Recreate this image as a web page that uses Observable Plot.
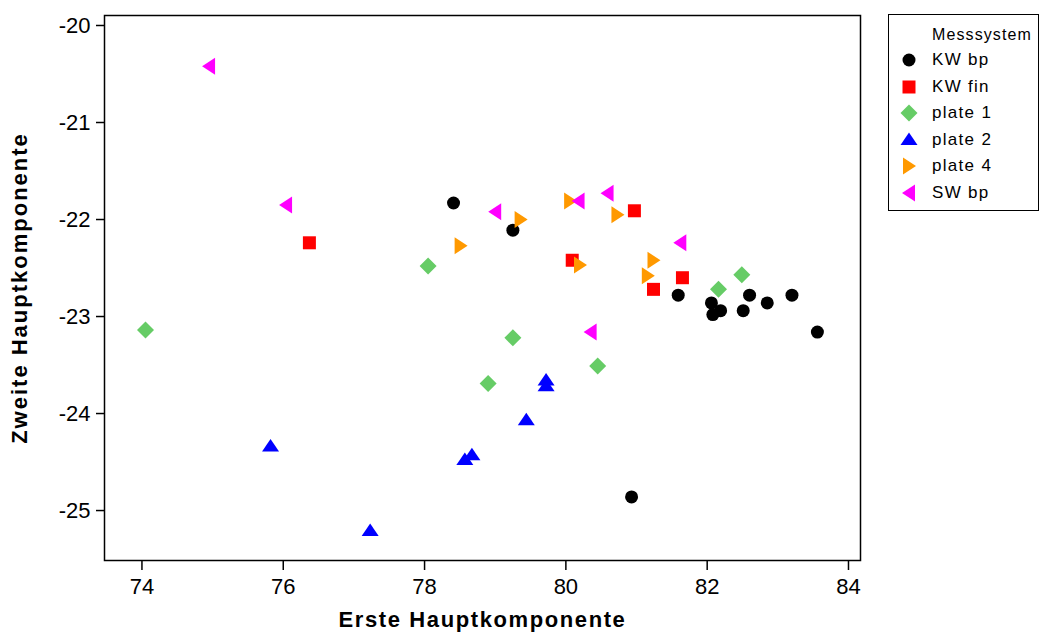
<!DOCTYPE html>
<html>
<head>
<meta charset="utf-8">
<script src="https://cdn.jsdelivr.net/npm/d3@7"></script>
<script src="https://cdn.jsdelivr.net/npm/@observablehq/plot@0.6"></script>
<style>
  html, body { margin: 0; padding: 0; background: #fff; }
  #wrap { position: relative; width: 1045px; height: 632px; font-family: "Liberation Sans", Arial, sans-serif; }
  #chart { position: absolute; left: 0; top: 0; }
  #legend { position: absolute; left: 888px; top: 14px; width: 151px; height: 197px; border: 1px solid #000; box-sizing: border-box; background: #fff; }
  #legend .title { position: absolute; left: 43px; top: 11px; font-size: 16px; letter-spacing: 1.1px; }
  #legend .row { position: absolute; left: 0; height: 22px; display: flex; align-items: center; font-size: 17px; letter-spacing: 1.3px; }
  #legend .row svg { margin-left: 10px; margin-right: 13px; }
  svg text { font-family: "Liberation Sans", Arial, sans-serif; }
  g[aria-label="x-axis label"] text { font-weight: bold; font-size: 22px; letter-spacing: 1.6px; }
  g[aria-label="y-axis label"] text { font-weight: bold; font-size: 22px; letter-spacing: 2.0px; }
</style>
</head>
<body>
<div id="wrap">
  <div id="chart"></div>
  <div id="legend"></div>
</div>
<script>
const legendTitle = "Messsystem";
const groups = ["KW bp", "KW fin", "plate 1", "plate 2", "plate 4", "SW bp"];
const colors = ["#000000", "#ff0000", "#66cc66", "#0000ff", "#ff9900", "#ff00ff"];
const xTicks = [74, 76, 78, 80, 82, 84];
const yTicks = [-20, -21, -22, -23, -24, -25];

const kwBpX = [78.41, 79.25, 81.59, 82.06, 82.19, 82.08, 82.60, 82.51, 82.85, 83.20, 83.56, 80.93];
const kwBpY = [-21.83, -22.11, -22.78, -22.86, -22.94, -22.98, -22.78, -22.94, -22.86, -22.78, -23.16, -24.86];
const kwFinX = [76.37, 80.97, 80.09, 81.65, 81.24];
const kwFinY = [-22.24, -21.91, -22.42, -22.60, -22.72];
const plate1X = [74.05, 78.05, 79.25, 78.90, 80.45, 82.16, 82.49];
const plate1Y = [-23.14, -22.48, -23.22, -23.69, -23.51, -22.72, -22.57];
const plate2X = [75.82, 77.23, 78.57, 78.67, 79.44, 79.72, 79.72];
const plate2Y = [-24.34, -25.21, -24.48, -24.43, -24.07, -23.66, -23.72];
const plate4X = [78.51, 79.36, 80.06, 80.73, 80.20, 81.24, 81.16];
const plate4Y = [-22.27, -22.00, -21.81, -21.95, -22.47, -22.42, -22.58];
const swBpX = [74.95, 76.04, 79.00, 80.18, 80.59, 81.62, 80.35];
const swBpY = [-20.42, -21.85, -21.92, -21.81, -21.73, -22.24, -23.16];

const seriesX = [kwBpX, kwFinX, plate1X, plate2X, plate4X, swBpX];
const seriesY = [kwBpY, kwFinY, plate1Y, plate2Y, plate4Y, swBpY];
const data = [];
groups.forEach((g, i) => seriesX[i].forEach((x, j) => data.push({group: g, x, y: seriesY[i][j]})));

// fixed-pixel custom symbols
const symCircle = {draw(c) { c.moveTo(6.5, 0); c.arc(0, 0, 6.5, 0, 2 * Math.PI); c.closePath(); }};
const symSquare = {draw(c) { c.moveTo(-6.5, -6.5); c.lineTo(6.5, -6.5); c.lineTo(6.5, 6.5); c.lineTo(-6.5, 6.5); c.closePath(); }};
const symDiamond = {draw(c) { c.moveTo(0, -8.5); c.lineTo(8.5, 0); c.lineTo(0, 8.5); c.lineTo(-8.5, 0); c.closePath(); }};
const symTriUp = {draw(c) { c.moveTo(0, -7.5); c.lineTo(8.5, 5); c.lineTo(-8.5, 5); c.closePath(); }};
const symTriRight = {draw(c) { c.moveTo(-6, -8.5); c.lineTo(7, 0); c.lineTo(-6, 8.5); c.closePath(); }};
const symTriLeft = {draw(c) { c.moveTo(6, -8.5); c.lineTo(-7, 0); c.lineTo(6, 8.5); c.closePath(); }};
const symbols = [symCircle, symSquare, symDiamond, symTriUp, symTriRight, symTriLeft];

const chart = Plot.plot({
  width: 880,
  height: 632,
  marginLeft: 104,
  marginRight: 20,
  marginTop: 15,
  marginBottom: 72,
  style: {fontSize: "22px", fontFamily: "Liberation Sans, Arial, sans-serif", color: "#000", background: "#fff"},
  x: {domain: [73.47, 84.17]},
  y: {domain: [-25.515, -19.897]},
  color: {domain: groups, range: colors},
  symbol: {domain: groups, range: symbols},
  marks: [
    Plot.frame({stroke: "#000", strokeWidth: 1.5}),
    Plot.axisX({ticks: xTicks, tickSize: 10, tickPadding: 8, tickFormat: d => String(d), fontSize: 22,
      label: "Erste Hauptkomponente", labelAnchor: "center", labelArrow: "none", labelOffset: 66, strokeWidth: 1.5}),
    Plot.axisY({ticks: yTicks, tickSize: 8, tickPadding: 6, tickFormat: d => String(d), fontSize: 22,
      label: "Zweite Hauptkomponente", labelAnchor: "center", labelArrow: "none", labelOffset: 93, strokeWidth: 1.5}),
    Plot.dot(data, {x: "x", y: "y", fill: "group", symbol: "group", stroke: "none"})
  ]
});
document.getElementById("chart").appendChild(chart);

// legend
const leg = document.getElementById("legend");
const t = document.createElement("div");
t.className = "title";
t.textContent = legendTitle;
leg.appendChild(t);
groups.forEach((g, i) => {
  const row = document.createElement("div");
  row.className = "row";
  row.style.top = (34 + i * 26.5) + "px";
  const s = d3.create("svg").attr("width", 20).attr("height", 20);
  s.append("path").attr("transform", "translate(10,10)").attr("fill", colors[i])
    .attr("d", d3.symbol(symbols[i])());
  row.appendChild(s.node());
  const span = document.createElement("span");
  span.textContent = g;
  row.appendChild(span);
  leg.appendChild(row);
});
</script>
</body>
</html>
